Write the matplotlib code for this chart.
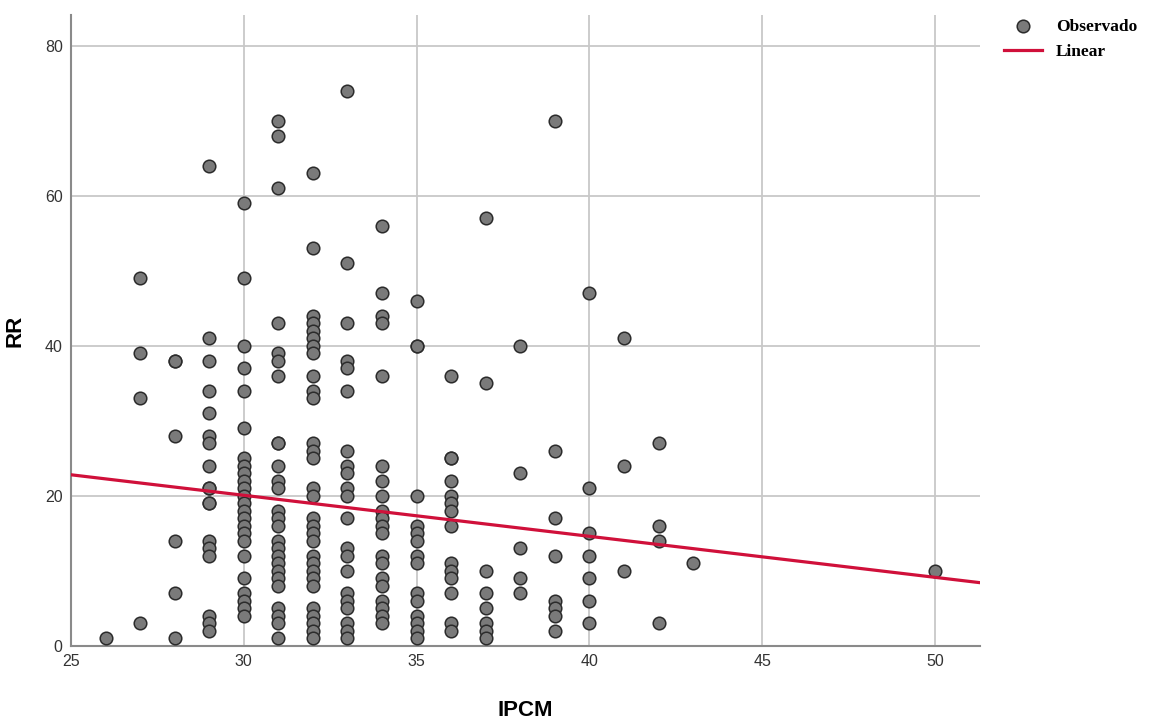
import matplotlib
matplotlib.use("Agg")
import matplotlib.pyplot as plt
import numpy as np

# IPCM values (x) and the RR values observed at each of them (y)
ipcm_levels = [26, 27, 28, 29, 30, 31, 32, 33, 34, 35, 36, 37, 38, 39, 40, 41, 42, 43, 50]
rr_by_level = [
    [1],
    [49, 39, 33, 3],
    [38, 38, 28, 14, 7, 1],
    [64, 41, 38, 34, 31, 28, 27, 24, 21, 21, 19, 19, 14, 13, 12, 4, 3, 2],
    [59, 49, 40, 37, 34, 29, 25, 24, 23, 22, 21, 20, 19, 18, 17, 16, 15, 14, 12, 9, 7, 6, 5, 4],
    [70, 68, 61, 43, 39, 38, 36, 27, 27, 24, 22, 21, 18, 17, 16, 14, 13, 12, 11, 10, 9, 8, 5, 4, 3, 1],
    [63, 53, 44, 43, 42, 41, 40, 39, 36, 34, 33, 27, 26, 25, 21, 20, 17, 16, 15, 14,
     12, 11, 10, 9, 8, 5, 4, 3, 2, 1],
    [74, 51, 43, 38, 37, 34, 26, 24, 23, 21, 20, 17, 13, 12, 10, 7, 6, 5, 3, 2, 1],
    [56, 47, 44, 43, 36, 24, 22, 20, 18, 17, 16, 15, 12, 11, 9, 8, 6, 5, 4, 3],
    [46, 40, 40, 20, 16, 15, 14, 12, 11, 7, 6, 4, 3, 2, 1],
    [36, 25, 25, 22, 20, 19, 18, 16, 11, 10, 9, 7, 3, 2],
    [57, 35, 10, 7, 5, 3, 2, 1],
    [40, 23, 13, 9, 7],
    [70, 26, 17, 12, 6, 5, 4, 2],
    [47, 21, 15, 12, 9, 6, 3],
    [41, 24, 10],
    [27, 16, 14, 3],
    [11],
    [10],
]

# linear fit: RR = intercept + slope * IPCM
fit_intercept = 36.5
fit_slope = -0.547

ipcm = []
rr = []
for lvl, vals in zip(ipcm_levels, rr_by_level):
    for v in vals:
        ipcm.append(lvl)
        rr.append(v)

sans = ["Liberation Sans Narrow", "Liberation Sans", "DejaVu Sans"]

fig = plt.figure(figsize=(11.71, 7.22), dpi=100)
ax = fig.add_axes([0.0606, 0.1053, 0.7763, 0.8737])

xmin, xmax = 25, 51.3
ax.set_xlim(xmin, xmax)
ax.set_ylim(0, 84.1)

ax.grid(True, color="#c8c8c8", linewidth=1.3, zorder=0)
ax.set_axisbelow(True)

ax.scatter(ipcm, rr, s=82, facecolor="#7a7a7a", edgecolor="#2b2b2b",
           linewidth=1.1, zorder=3, label="Observado")

xs = np.array([xmin, xmax])
ax.plot(xs, fit_intercept + fit_slope * xs, color="#d0103a", linewidth=2.3,
        zorder=4, label="Linear")

ax.set_xticks([25, 30, 35, 40, 45, 50])
ax.set_yticks([0, 20, 40, 60, 80])
ax.tick_params(length=0, labelsize=11.5, colors="#333333", pad=6)
for lab in ax.get_xticklabels() + ax.get_yticklabels():
    lab.set_family(sans)

for side in ["top", "right"]:
    ax.spines[side].set_visible(False)
for side in ["left", "bottom"]:
    ax.spines[side].set_color("#8a8a8a")
    ax.spines[side].set_linewidth(1.5)

ax.set_xlabel("IPCM", fontsize=16, fontweight="bold", family=sans, labelpad=22)
ax.set_ylabel("RR", fontsize=16, fontweight="bold", family=sans, labelpad=14)

leg = fig.legend(loc="upper left", bbox_to_anchor=(0.844, 0.996), frameon=False,
                 prop={"family": "Liberation Serif", "weight": "bold", "size": 12.5},
                 handlelength=2.2, handletextpad=0.8, labelspacing=0.55)

fig.savefig("out.png", dpi=100)
